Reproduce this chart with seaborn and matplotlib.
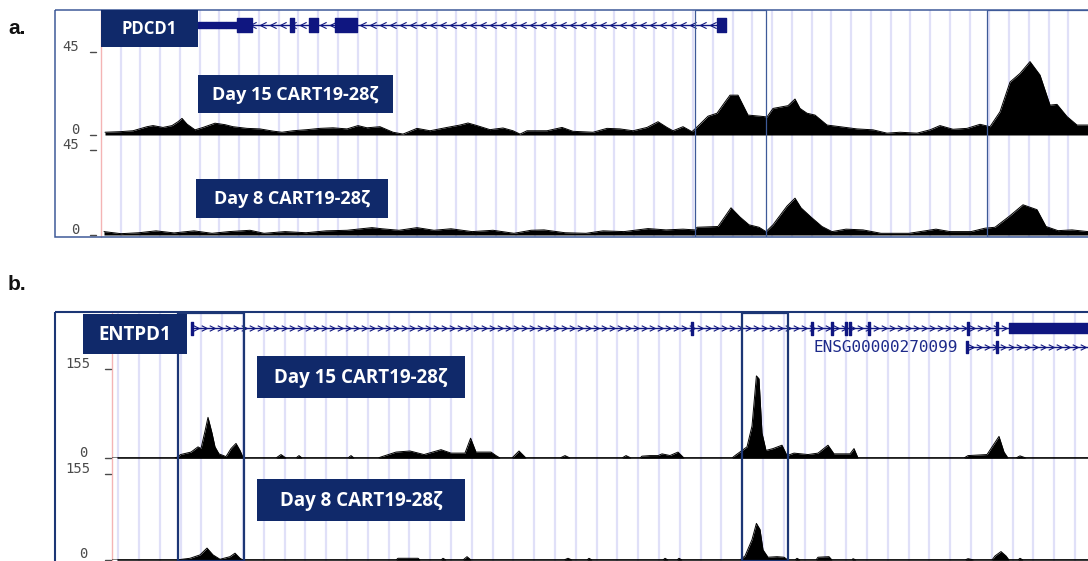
import numpy as np
import pandas as pd
import matplotlib
matplotlib.use("Agg")
import matplotlib.pyplot as plt
from matplotlib.patches import Rectangle
from matplotlib.path import Path
import seaborn as sns

# ---------------------------------------------------------------
# Coverage tracks (position in kb from the window start, read depth)
# ---------------------------------------------------------------
pdcd1_day15_kb = [0.20, 0.95, 1.60, 2.30, 2.60, 3.10, 3.55, 3.85, 4.05, 4.30,
                  4.70, 5.10, 5.70, 6.20, 6.60, 7.30, 7.95, 8.60, 9.05, 9.60,
                  10.30, 10.95, 11.60, 12.30, 12.85, 13.30, 13.95, 14.60, 15.10, 15.80,
                  16.45, 17.30, 17.95, 18.35, 18.80, 19.45, 20.10, 20.60, 20.95, 21.30,
                  22.30, 23.05, 23.60, 24.60, 25.30, 25.95, 26.60, 27.30, 27.85, 28.30,
                  28.60, 29.10, 29.55, 29.95, 30.35, 30.80, 31.20, 31.45, 31.85, 32.10,
                  32.35, 32.95, 33.30, 33.60, 34.35, 34.70, 34.95, 35.30, 35.70, 36.30,
                  36.95, 37.80, 38.60, 39.30, 39.95, 40.80, 41.45, 41.95, 42.60, 43.30,
                  43.95, 44.45, 44.95, 45.45, 45.95, 46.45, 46.95, 47.45, 47.80, 48.30,
                  48.80, 49.35]
pdcd1_day15_cov = [1.5, 1.8, 2.3, 4.5, 5.1, 4.1, 5.1, 7.2, 9.0, 5.9,
                   2.8, 4.1, 6.4, 5.6, 4.5, 3.6, 3.3, 2.1, 1.5, 2.3,
                   2.9, 3.6, 3.9, 3.3, 5.1, 3.9, 4.5, 1.5, 0.5, 3.6,
                   2.3, 4.1, 5.4, 6.5, 5.1, 2.9, 3.8, 2.3, 0.5, 2.3,
                   2.3, 4.1, 2.0, 1.5, 3.6, 3.3, 2.3, 4.1, 7.2, 4.1,
                   2.3, 4.5, 1.8, 5.9, 10.2, 11.8, 17.9, 21.6, 21.6, 16.2,
                   10.8, 10.2, 9.8, 14.4, 15.9, 19.5, 14.4, 11.8, 10.8, 5.4,
                   4.5, 3.3, 2.8, 1.0, 1.5, 1.0, 2.8, 5.1, 3.1, 3.6,
                   5.8, 4.5, 12.6, 28.7, 33.4, 39.8, 32.5, 16.2, 16.6, 10.0,
                   5.4, 5.4]

pdcd1_day8_kb = [0.15, 1.00, 1.90, 2.75, 3.65, 4.65, 5.55, 6.40, 7.45, 8.15,
                 9.20, 10.25, 11.25, 12.30, 13.55, 14.05, 14.90, 15.80, 16.65, 17.50,
                 18.55, 19.60, 20.65, 21.50, 22.15, 23.20, 24.25, 25.10, 26.15, 27.35,
                 28.25, 29.10, 29.70, 29.80, 30.85, 31.20, 31.50, 31.95, 32.40, 32.90,
                 33.25, 33.60, 34.30, 34.70, 35.00, 35.50, 36.05, 36.55, 37.25, 38.10,
                 39.00, 40.40, 41.75, 42.45, 43.50, 44.20, 44.70, 45.40, 46.10, 46.80,
                 47.25, 47.85, 48.55, 49.35]
pdcd1_day8_cov = [1.8, 0.7, 1.2, 2.2, 1.1, 2.2, 0.9, 1.8, 2.5, 0.9,
                  1.8, 1.2, 2.2, 2.5, 3.9, 3.3, 2.5, 3.9, 2.5, 3.3,
                  1.8, 2.5, 0.9, 2.5, 2.7, 1.2, 0.9, 2.2, 1.8, 3.4,
                  2.7, 3.1, 2.7, 4.1, 4.5, 9.8, 14.4, 9.5, 5.4, 4.1,
                  1.8, 5.4, 15.3, 19.5, 14.4, 9.5, 4.5, 1.8, 3.1, 2.7,
                  0.9, 0.9, 3.1, 1.8, 1.8, 3.6, 4.1, 9.8, 16.0, 13.4,
                  4.5, 2.3, 2.7, 1.8]

entpd1_day15_kb = [0.0, 3.1, 3.25, 3.43, 3.95, 4.30, 4.45, 4.65, 4.80, 5.00,
                   5.15, 5.35, 5.70, 5.95, 6.20, 6.40, 6.55, 6.7, 8.2, 8.45,
                   8.7, 9.2, 9.35, 9.5, 11.8, 11.95, 12.1, 13.3, 13.5, 14.2,
                   14.9, 15.6, 16.45, 16.95, 17.65, 17.93, 18.2, 18.95, 19.2, 19.4,
                   20.0, 20.35, 20.7, 22.4, 22.65, 22.9, 25.5, 25.7, 25.95, 26.4,
                   26.5, 26.9, 27.3, 27.5, 27.9, 28.3, 28.6, 31.0, 31.15, 31.75,
                   32.0, 32.22, 32.35, 32.5, 32.7, 33.05, 33.5, 33.75, 34.1, 34.8,
                   35.3, 35.8, 36.1, 36.9, 37.1, 37.3, 42.6, 42.8, 43.75, 44.35,
                   44.6, 44.8, 45.2, 45.4, 45.7, 48.8]
entpd1_day15_cov = [0, 0, 1.3, 6.0, 10.3, 19.4, 16.4, 46.6, 70.8, 43.5,
                    19.4, 7.2, 2.4, 16.4, 25.4, 13.2, 1.3, 0, 0, 6.0,
                    0, 0, 4.2, 0, 0, 4.2, 0, 0, 2.4, 10.3,
                    12.2, 6.0, 14.5, 8.5, 8.5, 34.5, 10.3, 10.3, 4.2, 0,
                    0, 12.2, 0, 0, 4.2, 0, 0, 4.2, 0, 0,
                    3.2, 4.2, 4.2, 7.2, 4.3, 10.3, 0, 0, 4.2, 19.4,
                    55.7, 143.0, 138.0, 43.5, 13.2, 16.4, 22.3, 4.2, 8.5, 6.0,
                    8.5, 22.3, 7.2, 7.2, 16.4, 0, 0, 4.2, 6.0, 37.6,
                    10.3, 0, 0, 3.7, 0, 0]

entpd1_day8_kb = [0.0, 3.2, 3.9, 4.4, 4.75, 5.05, 5.4, 5.9, 6.15, 6.4,
                  6.55, 14.2, 14.3, 15.3, 15.4, 16.45, 16.55, 16.7, 17.55, 17.75,
                  17.95, 22.6, 22.8, 23.0, 23.75, 23.85, 24.0, 27.55, 27.65, 27.8,
                  28.25, 28.35, 28.5, 31.4, 31.65, 32.0, 32.22, 32.4, 32.55, 32.8,
                  33.25, 33.6, 33.8, 34.15, 34.25, 34.4, 35.2, 35.3, 35.85, 36.0,
                  37.0, 37.05, 37.2, 42.65, 42.8, 43.1, 44.0, 44.15, 44.45, 44.7,
                  44.85, 45.3, 45.4, 45.55, 48.8]
entpd1_day8_cov = [0, 0, 3.1, 9.2, 21.5, 9.2, 1.3, 6.0, 12.3, 3.1,
                   0, 0, 3.1, 3.1, 0, 0, 3.1, 0, 0, 6.0,
                   0, 0, 3.1, 0, 0, 3.1, 0, 0, 3.1, 0,
                   0, 3.1, 0, 0, 7.3, 36.7, 66.0, 55.0, 18.3, 5.0,
                   6.0, 5.0, 0, 0, 3.1, 0, 0, 5.0, 6.0, 0,
                   0, 2.4, 0, 0, 2.4, 0, 0, 7.3, 15.2, 7.3,
                   0, 0, 3.1, 0, 0]

sample_labels = ["Day 15 CART19-28\u03b6", "Day 8 CART19-28\u03b6"]
gene_labels = ["PDCD1", "ENTPD1"]
panel_letters = ["a.", "b."]
pdcd1_ymax = 45
entpd1_ymax = 155

# Gene models (kb)
pdcd1_span = (4.85, 31.25)
pdcd1_utr = [(4.85, 6.80)]
pdcd1_exons = [(6.80, 7.55), (9.45, 9.65), (10.40, 10.85), (11.70, 12.80), (30.80, 31.25)]
entpd1_span = (4.0, 48.8)
entpd1_exons = [(3.95, 4.05), (28.93, 29.03), (34.95, 35.05), (35.93, 36.03),
                (36.65, 36.75), (36.85, 36.95), (37.78, 37.88), (42.73, 42.83),
                (44.20, 44.30)]
entpd1_cds = [(44.85, 48.8)]
ensg_name = "ENSG00000270099"
ensg_span = (42.75, 48.8)
ensg_exons = [(42.70, 42.80), (44.20, 44.30)]

# Highlighted regions (kb)
pdcd1_regions = [(29.70, 33.25), (44.30, 52.0)]
entpd1_regions = [(3.30, 6.60), (31.50, 33.80)]

# ---------------------------------------------------------------
# Styling
# ---------------------------------------------------------------
W, H = 1088, 561
NAVY = "#10296a"
GENE = "#0f1680"
GUIDE = "#e0e0f8"
RED = "#f4b4b4"
FRAME_A = "#3e5a98"
FRAME_B = "#1c3675"
TICK_TXT = "#4a4a4a"

sns.set_theme(style="white")
plt.rcParams["font.family"] = ["DejaVu Sans"]

fig = plt.figure(figsize=(W / 100, H / 100), dpi=100)
fig.patch.set_facecolor("white")


def px_axes(x0, y0, x1, y1, z):
    ax = fig.add_axes([x0 / W, 1 - y1 / H, (x1 - x0) / W, (y1 - y0) / H], zorder=z)
    ax.set_axis_off()
    return ax


left_chev = Path([(1, 1), (-1, 0), (1, -1)], [Path.MOVETO, Path.LINETO, Path.LINETO])
right_chev = Path([(-1, 1), (1, 0), (-1, -1)], [Path.MOVETO, Path.LINETO, Path.LINETO])


def draw_gene(ax, span, y, exons, thin=(), strand="+", step=0.5, exon_h=14, thin_h=6,
              ms=4.5):
    ax.plot(list(span), [y, y], color=GENE, lw=1.0, solid_capstyle="butt", zorder=2)
    marks = np.arange(span[0] + step / 2, span[1], step)
    ax.plot(marks, np.full_like(marks, y), ls="none",
            marker=left_chev if strand == "-" else right_chev,
            ms=ms, mec=GENE, mfc="none", mew=0.8, zorder=2)
    if thin:
        ax.broken_barh([(a, b - a) for a, b in thin], (y - thin_h / 2, thin_h),
                       color=GENE, zorder=3)
    if exons:
        ax.broken_barh([(a, b - a) for a, b in exons], (y - exon_h / 2, exon_h),
                       color=GENE, zorder=3)


def coverage(ax, kb, cov, ymax, xmax, baseline=False):
    df = pd.DataFrame({"kb": kb, "cov": cov})
    ax.fill_between(df["kb"], df["cov"], 0, color="black", lw=0)
    sns.lineplot(data=df, x="kb", y="cov", ax=ax, color="black", lw=0.7,
                 estimator=None, legend=False)
    if baseline:
        ax.plot([0.3, xmax], [0, 0], color="black", lw=1.1, clip_on=False)
    ax.set_xlim(0, xmax)
    ax.set_ylim(0, ymax)
    ax.set_axis_off()


def panel(x0, x1, top, bottom, xmax, guides, regions, region_color, region_lw):
    back = px_axes(x0, top, x1, bottom, 1)
    back.set_xlim(0, xmax)
    back.set_ylim(0, 1)
    back.vlines(guides, 0, 1, color=GUIDE, lw=1.6)
    back.axvline(0, color=RED, lw=1.0, clip_on=False)
    front = px_axes(x0, top, x1, bottom, 4)
    front.set_xlim(0, xmax)
    front.set_ylim(0, 1)
    for a, b in regions:
        front.add_patch(Rectangle((a, 0.0), b - a, 1.0, fill=False,
                                  ec=region_color, lw=region_lw))
    return back, front


# ---------------- panel a: PDCD1 ----------------
xa0, xa1, xa_max = 101, 1088, 49.35
panel(xa0, xa1, 10, 237, xa_max, np.arange(0.987, xa_max, 0.987),
      pdcd1_regions, FRAME_A, 0.9)

ga = px_axes(xa0, 10, xa1, 40, 3)
ga.set_xlim(0, xa_max)
ga.set_ylim(-15, 15)
draw_gene(ga, pdcd1_span, 0, pdcd1_exons, thin=pdcd1_utr, strand="-", step=0.5)

a1 = px_axes(xa0, 52, xa1, 135, 2)
coverage(a1, pdcd1_day15_kb, pdcd1_day15_cov, pdcd1_ymax, xa_max)
a2 = px_axes(xa0, 150, xa1, 235, 2)
coverage(a2, pdcd1_day8_kb, pdcd1_day8_cov, pdcd1_ymax, xa_max)

# ---------------- panel b: ENTPD1 ----------------
xb0, xb1, xb_max = 112, 1088, 48.8
panel(xb0, xb1, 313, 561, xb_max, np.arange(0.31, xb_max, 1.04),
      entpd1_regions, FRAME_B, 1.6)

gb = px_axes(xb0, 313, xb1, 360, 3)
gb.set_xlim(0, xb_max)
gb.set_ylim(47, 0)
draw_gene(gb, entpd1_span, 15, entpd1_exons, strand="+", step=0.4, exon_h=13, ms=4)
gb.broken_barh([(a, b - a) for a, b in entpd1_cds], (10, 10), color=GENE, zorder=3)
draw_gene(gb, ensg_span, 34, ensg_exons, strand="+", step=0.4, exon_h=12, ms=4)
gb.text(42.3, 34, ensg_name, ha="right", va="center", color="#1d2a8a",
        fontsize=11.5, family="DejaVu Sans Mono")

b1 = px_axes(xb0, 369, xb1, 458, 2)
coverage(b1, entpd1_day15_kb, entpd1_day15_cov, entpd1_ymax, xb_max, baseline=True)
b2 = px_axes(xb0, 474, xb1, 560, 2)
coverage(b2, entpd1_day8_kb, entpd1_day8_cov, entpd1_ymax, xb_max, baseline=True)

# ---------------- frames, labels, scale marks ----------------
ov = px_axes(0, 0, W, H, 5)
ov.set_xlim(0, W)
ov.set_ylim(H, 0)

ov.add_patch(Rectangle((55, 10), 1100, 227, fill=False, ec=FRAME_A, lw=1.1))
ov.add_patch(Rectangle((55, 312), 1100, 300, fill=False, ec=FRAME_B, lw=1.5))

ov.text(8, 28, panel_letters[0], fontsize=15, fontweight="bold",
        family="Liberation Sans", va="center", ha="left", color="#111111")
ov.text(8, 284, panel_letters[1], fontsize=15, fontweight="bold",
        family="Liberation Sans", va="center", ha="left", color="#111111")


def label_box(x0, y0, x1, y1, text, size):
    ov.add_patch(Rectangle((x0, y0), x1 - x0, y1 - y0, color=NAVY, lw=0))
    ov.text((x0 + x1) / 2, (y0 + y1) / 2 + 0.5, text, ha="center", va="center",
            color="white", fontsize=size, fontweight="bold", family="Open Sans")


label_box(101, 10, 198, 47, gene_labels[0], 12)
label_box(198, 75, 393, 113, sample_labels[0], 13)
label_box(196, 179, 388, 218, sample_labels[1], 13)
label_box(83, 314, 187, 354, gene_labels[1], 13.5)
label_box(257, 356, 465, 398, sample_labels[0], 13.5)
label_box(257, 479, 465, 521, sample_labels[1], 13.5)


def scale_mark(y, text, x_right, dash):
    ov.text(x_right, y - 5.5, text, ha="right", va="center", fontsize=10,
            family="DejaVu Sans Mono", color=TICK_TXT)
    ov.plot(dash, [y, y], color=TICK_TXT, lw=1.0)


scale_mark(52, str(pdcd1_ymax), 79, [90, 96])
scale_mark(135, "0", 80, [90, 96])
scale_mark(150, str(pdcd1_ymax), 79, [90, 96])
scale_mark(235, "0", 80, [90, 96])
scale_mark(369, str(entpd1_ymax), 90, [105, 111])
scale_mark(458, "0", 88, [105, 111])
scale_mark(474, str(entpd1_ymax), 90, [105, 111])
scale_mark(560, "0", 88, [105, 111])

fig.savefig("out.png", dpi=100, facecolor="white")
